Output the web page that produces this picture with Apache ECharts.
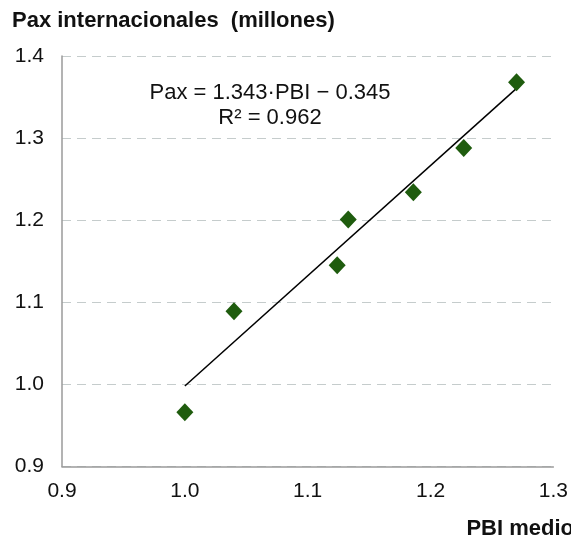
<!DOCTYPE html>
<html>
<head>
<meta charset="utf-8">
<script src="https://cdn.jsdelivr.net/npm/echarts@6/dist/echarts.min.js"></script>
<style>
  html, body { margin: 0; padding: 0; background: #fff; }
  #chart { width: 571px; height: 540px; }
</style>
</head>
<body>
<div id="chart"></div>
<script>
// PBI medio (x) vs pax internacionales (y)
var pbi = [1.000, 1.040, 1.124, 1.133, 1.186, 1.227, 1.270];
var pax = [0.966, 1.089, 1.145, 1.201, 1.234, 1.288, 1.368];
// recta de ajuste
var slope = 1.343;
var intercept = -0.345;
var fitX = [1.000, 1.270];
var xTicks = [0.9, 1.0, 1.1, 1.2, 1.3];
var yTicks = [0.9, 1.0, 1.1, 1.2, 1.3, 1.4];

var font = 'Liberation Sans, Arial, sans-serif';
var green = '#1f5c0e';

var points = pbi.map(function (x, i) { return [x, pax[i]]; });
var fitLine = fitX.map(function (x) { return [x, slope * x + intercept]; });

var myChart = echarts.init(document.getElementById('chart'));
myChart.setOption({
    animation: false,
    grid: { left: 62, right: 15, top: 56, bottom: 73.5, containLabel: false },
    xAxis: {
        type: 'value',
        min: xTicks[0],
        max: xTicks[xTicks.length - 1],
        interval: 0.1,
        axisLine: { show: true, onZero: false, lineStyle: { color: '#9a9a9a', width: 1.5 } },
        axisTick: { show: false },
        splitLine: { show: false },
        axisLabel: {
            margin: 14, color: '#111', fontSize: 21, fontFamily: font,
            formatter: function (v) { return v.toFixed(1); }
        }
    },
    yAxis: {
        type: 'value',
        min: yTicks[0],
        max: yTicks[yTicks.length - 1],
        interval: 0.1,
        axisLine: { show: true, onZero: false, lineStyle: { color: '#9a9a9a', width: 1.5 } },
        axisTick: { show: false },
        splitLine: { show: true, lineStyle: { color: '#c5cccc', width: 1.2, type: [9, 6] } },
        axisLabel: {
            margin: 18, color: '#111', fontSize: 21, fontFamily: font,
            formatter: function (v) { return v.toFixed(1); }
        }
    },
    graphic: [
        {
            type: 'text', left: 12, top: 10,
            style: { text: 'Pax internacionales  (millones)', font: 'bold 22px ' + font, fill: '#111' }
        },
        {
            type: 'text', right: -3, top: 518,
            style: { text: 'PBI medio', font: 'bold 22px ' + font, fill: '#111' }
        },
        {
            type: 'text', x: 270, y: 93,
            style: { text: 'Pax = 1.343\u00b7PBI \u2212 0.345', font: '22px ' + font, fill: '#111', align: 'center', verticalAlign: 'middle' }
        },
        {
            type: 'text', x: 270, y: 118,
            style: { text: 'R\u00b2 = 0.962', font: '22px ' + font, fill: '#111', align: 'center', verticalAlign: 'middle' }
        }
    ],
    series: [
        {
            type: 'line',
            data: fitLine,
            symbol: 'none',
            lineStyle: { color: '#000', width: 1.5 },
            z: 2
        },
        {
            type: 'scatter',
            data: points,
            symbol: 'diamond',
            symbolSize: [17, 18],
            itemStyle: { color: green, opacity: 1 },
            z: 3
        }
    ]
});
</script>
</body>
</html>
